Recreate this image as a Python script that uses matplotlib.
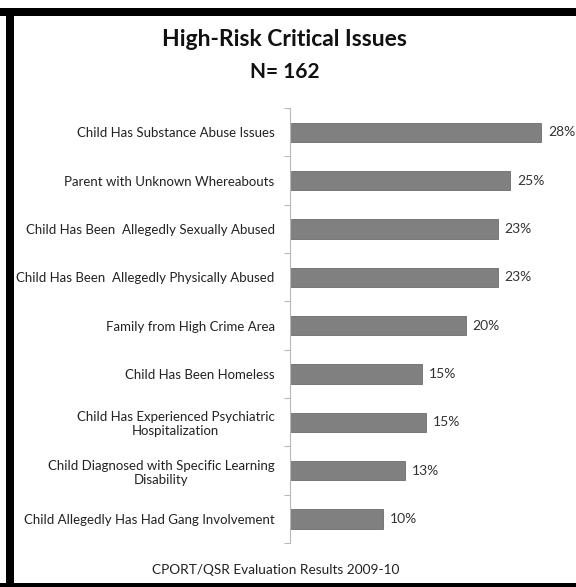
import matplotlib.pyplot as plt
from matplotlib.patches import Rectangle
import numpy as np

# ────────────────────────────────────────────────────────────────────────────────
# data, top to bottom as in the chart

issues = [
    'Child Has Substance Abuse Issues',
    'Parent with Unknown Whereabouts',
    'Child Has Been  Allegedly Sexually Abused',
    'Child Has Been  Allegedly Physically Abused',
    'Family from High Crime Area',
    'Child Has Been Homeless',
    'Child Has Experienced Psychiatric\nHospitalization',
    'Child Diagnosed with Specific Learning\nDisability',
    'Child Allegedly Has Had Gang Involvement',
]
pct = [28.2, 24.7, 23.3, 23.3, 19.7, 14.8, 15.3, 12.9, 10.4]
pct_labels = ['28%', '25%', '23%', '23%', '20%', '15%', '15%', '13%', '10%']

title = 'High-Risk Critical Issues'
subtitle = 'N= 162'
footer = 'CPORT/QSR Evaluation Results 2009-10'

# ────────────────────────────────────────────────────────────────────────────────

plt.rcParams['font.family'] = ['Lato', 'DejaVu Sans']
W, H = 576, 587
fig = plt.figure(figsize=(W / 100, H / 100), dpi=100)
fig.patch.set_facecolor('white')

ax = fig.add_axes([290 / W, 1 - 543 / H, (W - 290) / W, (543 - 108) / H])
y = np.arange(len(issues))
ax.barh(y, pct, height=0.4, color='#808080', edgecolor='#6c6c6c', linewidth=0.6)
ax.set_ylim(len(issues) - 0.5, -0.5)
ax.set_xlim(0, 32.1)

for yi, v, lab in zip(y, pct, pct_labels):
    ax.annotate(lab, (v, yi), xytext=(5, 0), textcoords='offset points',
                va='center', ha='left', fontsize=10, color='#333333')

ax.set_yticks(y)
ax.set_yticklabels(issues, fontsize=9.5, color='#222222', multialignment='center')
ax.tick_params(axis='y', which='major', length=0, pad=11)
ax.set_yticks(np.arange(len(issues) + 1) - 0.5, minor=True)
ax.tick_params(axis='y', which='minor', length=4, color='#b8b8b8', width=0.8)
ax.set_xticks([])
for s in ['top', 'right', 'bottom']:
    ax.spines[s].set_visible(False)
ax.spines['left'].set_color('#b8b8b8')
ax.spines['left'].set_linewidth(0.8)
ax.patch.set_alpha(0)

fig.text(284 / W, 1 - 40 / H, title, ha='center', va='center', fontsize=16.5,
         fontweight='bold', color='#111111')
fig.text(285 / W, 1 - 72 / H, subtitle, ha='center', va='center', fontsize=15,
         fontweight='bold', color='#111111')
fig.text(276 / W, 1 - 570 / H, footer, ha='center', va='center', fontsize=9.8,
         color='#222222')

# black frame (top, left, bottom)
fig.add_artist(Rectangle((0, 1 - 16 / H), 1, 8 / H, transform=fig.transFigure,
                         color='black', lw=0))
fig.add_artist(Rectangle((6 / W, 0), 8 / W, 1 - 8 / H, transform=fig.transFigure,
                         color='black', lw=0))
fig.add_artist(Rectangle((0, 0), 1, 4 / H, transform=fig.transFigure,
                         color='black', lw=0))

fig.savefig('out.png', dpi=100)
